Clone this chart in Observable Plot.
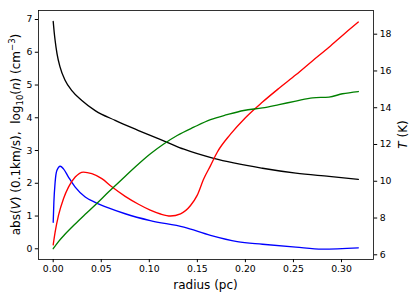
<!DOCTYPE html>
<html>
<head>
<meta charset="utf-8">
<script src="https://cdn.jsdelivr.net/npm/d3@7"></script>
<script src="https://cdn.jsdelivr.net/npm/@observablehq/plot@0.6"></script>
<style>
  html, body { margin: 0; padding: 0; background: white; }
  #chart svg { display: block; }
</style>
</head>
<body>
<div id="chart"></div>
<script>
// log10(n) (left axis)
const rBlack = [0, 0.001, 0.002, 0.004, 0.007, 0.0125, 0.0194, 0.0298, 0.0437, 0.0645, 0.0888, 0.101, 0.1186, 0.136, 0.167, 0.2178, 0.2525, 0.287, 0.3175];
const logN   = [6.94, 6.62, 6.36, 5.95, 5.56, 5.14, 4.83, 4.53, 4.22, 3.92, 3.61, 3.46, 3.25, 3.04, 2.76, 2.46, 2.31, 2.21, 2.12];

// abs(V) in 0.1 km/s (left axis)
const rBlue = [0, 0.0007, 0.002, 0.0038, 0.0073, 0.0107, 0.0159, 0.0229, 0.0333, 0.0437, 0.0575, 0.0749, 0.101, 0.136, 0.1637, 0.1915, 0.2178, 0.2525, 0.28, 0.3175];
const absV  = [0.81, 1.42, 2.03, 2.39, 2.52, 2.44, 2.19, 1.88, 1.58, 1.42, 1.25, 1.07, 0.86, 0.66, 0.41, 0.22, 0.14, 0.05, -0.01, 0.03];

// temperature T (K), right axis — red
const rRed = [0, 0.002, 0.0055, 0.0107, 0.0159, 0.0229, 0.0315, 0.0402, 0.0506, 0.061, 0.0749, 0.0888, 0.101, 0.1117, 0.122, 0.1325, 0.1429, 0.1498, 0.1567, 0.1637, 0.1707, 0.1845, 0.2, 0.2178, 0.235, 0.2525, 0.27, 0.287, 0.3025, 0.3175];
const tRed = [6.54, 7.23, 8.14, 9.05, 9.68, 10.23, 10.50, 10.41, 10.14, 9.70, 9.18, 8.75, 8.43, 8.22, 8.11, 8.23, 8.68, 9.23, 10.14, 10.85, 11.58, 12.56, 13.46, 14.31, 15.06, 15.79, 16.56, 17.29, 18.00, 18.66];

// temperature T (K), right axis — green
const rGreen = [0, 0.0055, 0.0125, 0.0229, 0.0333, 0.0437, 0.0575, 0.0714, 0.0853, 0.1012, 0.115, 0.129, 0.1463, 0.1637, 0.181, 0.1983, 0.2178, 0.235, 0.2525, 0.27, 0.287, 0.301, 0.3175];
const tGreen = [6.33, 6.72, 7.13, 7.68, 8.20, 8.71, 9.41, 10.10, 10.78, 11.50, 12.03, 12.49, 12.94, 13.35, 13.62, 13.85, 13.99, 14.17, 14.36, 14.54, 14.58, 14.76, 14.88];

const xTicks = [0, 0.05, 0.10, 0.15, 0.20, 0.25, 0.30];
const leftTicks = [0, 1, 2, 3, 4, 5, 6, 7];
const rightTicks = [6, 8, 10, 12, 14, 16, 18];

const xDomain = [-0.0153, 0.3333];
const yDomain = [-0.327, 7.275];
const tDomain = [5.744, 19.289];
const tToV = t => yDomain[0] + (t - tDomain[0]) * (yDomain[1] - yDomain[0]) / (tDomain[1] - tDomain[0]);
const vToT = v => tDomain[0] + (v - yDomain[0]) * (tDomain[1] - tDomain[0]) / (yDomain[1] - yDomain[0]);

const zip = (xs, ys) => xs.map((x, i) => ({x, y: ys[i]}));
const lw = 1.35;

const chart = Plot.plot({
  width: 415,
  height: 299,
  marginLeft: 38,
  marginRight: 42,
  marginTop: 10,
  marginBottom: 40,
  style: {fontFamily: "DejaVu Sans", fontSize: "9.3px", background: "white", color: "black"},
  x: {domain: xDomain},
  y: {domain: yDomain},
  marks: [
    Plot.line(zip(rBlack, logN), {x: "x", y: "y", stroke: "black", strokeWidth: lw, curve: "monotone-x"}),
    Plot.line(zip(rBlue, absV), {x: "x", y: "y", stroke: "blue", strokeWidth: lw, curve: "monotone-x"}),
    Plot.line(zip(rRed, tRed), {x: "x", y: d => tToV(d.y), stroke: "red", strokeWidth: lw, curve: "monotone-x"}),
    Plot.line(zip(rGreen, tGreen), {x: "x", y: d => tToV(d.y), stroke: "green", strokeWidth: lw, curve: "monotone-x"}),
    Plot.frame({stroke: "black", strokeWidth: 0.8}),
    Plot.axisX({ticks: xTicks, tickSize: 3.2, tickPadding: 3, tickFormat: d3.format(".2f"), label: null}),
    Plot.axisY({ticks: leftTicks, anchor: "left", tickSize: 3.2, tickPadding: 3, tickFormat: d => String(d), label: null}),
    Plot.axisY({ticks: rightTicks.map(tToV), anchor: "right", tickSize: 3.2, tickPadding: 3, tickFormat: v => String(Math.round(vToT(v))), label: null})
  ]
});

document.getElementById("chart").appendChild(chart);

const svg = d3.select(chart);
// x label
svg.append("text")
  .attr("x", 205.5).attr("y", 289)
  .attr("text-anchor", "middle")
  .attr("font-family", "DejaVu Sans").attr("font-size", 12).attr("fill", "black")
  .text("radius (pc)");

// left y label
const ly = svg.append("text")
  .attr("transform", "translate(19.5,134.5) rotate(-90)")
  .attr("text-anchor", "middle")
  .attr("font-family", "DejaVu Sans").attr("font-size", 12).attr("fill", "black")
  .style("white-space", "pre");
ly.append("tspan").text("abs(");
ly.append("tspan").attr("font-style", "italic").text("V");
ly.append("tspan").text(") (0.1km/s),  log");
ly.append("tspan").attr("font-size", 8.5).attr("dy", 3).text("10");
ly.append("tspan").attr("dy", -3).text("(");
ly.append("tspan").attr("font-style", "italic").text("n");
ly.append("tspan").text(") (cm");
ly.append("tspan").attr("font-size", 8.5).attr("dy", -4.5).text("\u22123");
ly.append("tspan").attr("dy", 4.5).text(")");

// right y label
const ry = svg.append("text")
  .attr("transform", "translate(406.5,134.5) rotate(-90)")
  .attr("text-anchor", "middle")
  .attr("font-family", "DejaVu Sans").attr("font-size", 12).attr("fill", "black")
  .style("white-space", "pre");
ry.append("tspan").attr("font-style", "italic").text("T");
ry.append("tspan").text(" (K)");
</script>
</body>
</html>
